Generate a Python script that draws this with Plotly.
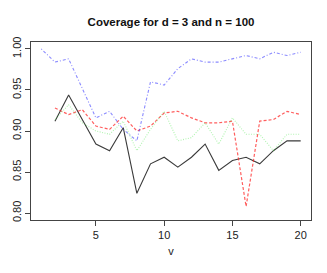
import plotly.graph_objects as go

v = list(range(1, 21))
blue_vals = [1.000, 0.984, 0.988, 0.952, 0.916, 0.924, 0.902, 0.888, 0.960, 0.956,
             0.976, 0.988, 0.984, 0.984, 0.988, 0.992, 0.988, 0.996, 0.992, 0.996]
v2 = list(range(2, 21))
red_vals = [0.928, 0.920, 0.926, 0.906, 0.902, 0.918, 0.900, 0.906, 0.922,
            0.924, 0.916, 0.910, 0.910, 0.912, 0.808, 0.912, 0.914, 0.924, 0.920]
green_vals = [0.914, 0.932, 0.910, 0.900, 0.896, 0.912, 0.876, 0.902, 0.924,
              0.888, 0.892, 0.910, 0.884, 0.916, 0.896, 0.896, 0.876, 0.896, 0.896]
black_vals = [0.912, 0.944, 0.914, 0.884, 0.876, 0.904, 0.824, 0.860, 0.868,
              0.856, 0.868, 0.884, 0.852, 0.864, 0.868, 0.860, 0.876, 0.888, 0.888]
x_ticks = [5, 10, 15, 20]
y_ticks = [0.80, 0.85, 0.90, 0.95, 1.00]
y_tick_text = ["0.80", "0.85", "0.90", "0.95", "1.00"]

FONT = "Liberation Sans, Arial, sans-serif"

fig = go.Figure()
fig.add_trace(go.Scatter(x=v2, y=black_vals, mode="lines",
                         line=dict(color="#3a3a3a", width=1.1)))
fig.add_trace(go.Scatter(x=v2, y=red_vals, mode="lines",
                         line=dict(color="rgba(255,40,40,0.75)", width=1.2, dash="3px,2px")))
fig.add_trace(go.Scatter(x=v2, y=green_vals, mode="lines",
                         line=dict(color="rgba(80,230,80,0.45)", width=1.1, dash="1px,1.5px")))
fig.add_trace(go.Scatter(x=v, y=blue_vals, mode="lines",
                         line=dict(color="rgba(60,60,255,0.6)", width=1.1, dash="1px,2px,3px,2px")))

axis_common = dict(showline=True, linecolor="#444", linewidth=1, mirror=True,
                   ticks="outside", ticklen=5, tickcolor="#444", tickwidth=1,
                   showgrid=False, zeroline=False, automargin=False,
                   tickfont=dict(family=FONT, size=11, color="#222"))

fig.update_layout(
    width=327, height=273,
    margin=dict(l=31, r=16, t=42, b=53),
    paper_bgcolor="white", plot_bgcolor="white",
    showlegend=False,
    title=dict(text="<b>Coverage for d = 3 and n = 100</b>", x=0.523, xanchor="center",
               y=1 - 21.5 / 273, yanchor="middle",
               font=dict(family=FONT, size=11.5, color="#111")),
    xaxis=dict(range=[0.245, 20.755], tickvals=x_ticks, ticktext=[str(t) for t in x_ticks],
               title=dict(text="v", standoff=7,
                          font=dict(family=FONT, size=11, color="#222")),
               **axis_common),
    yaxis=dict(range=[0.7915, 1.0085], tickvals=y_ticks, ticktext=y_tick_text,
               tickangle=-90, **axis_common),
)

fig.write_html("out.html", config={"displayModeBar": False},
               post_script="document.body.style.margin='0px';")
